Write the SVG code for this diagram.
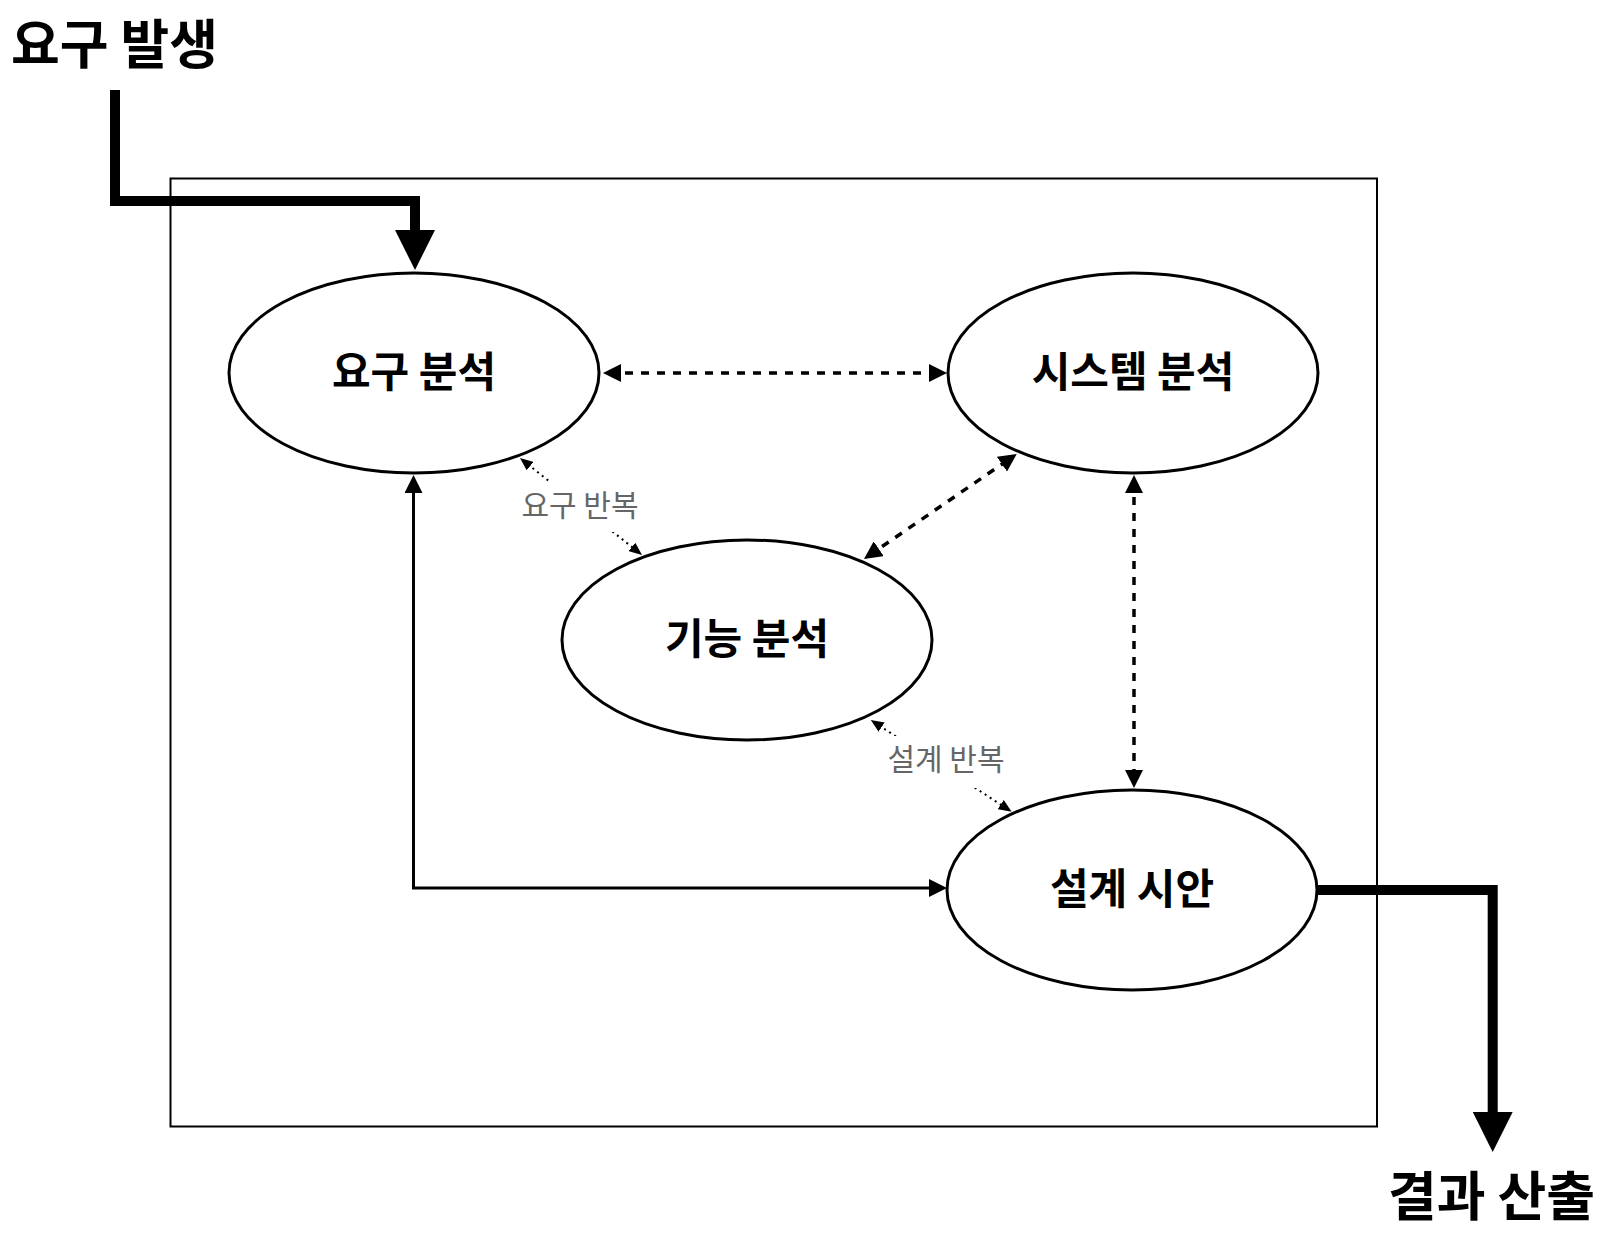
<svg xmlns="http://www.w3.org/2000/svg" width="1608" height="1244" viewBox="0 0 1608 1244">
<style>
text{font-family:"Noto Sans CJK KR","Noto Sans",sans-serif}
.title{font-size:53px;font-weight:700;fill:#000}
.lbl{font-size:42px;font-weight:700;fill:#000;text-anchor:middle}
.sm{font-size:30px;fill:#666;text-anchor:middle}
.node{fill:#fff;stroke:#000;stroke-width:3}
.thick{fill:none;stroke:#000;stroke-width:10}
.dash{fill:none;stroke:#000;stroke-width:3.5;stroke-dasharray:8 8}
.dot{fill:none;stroke:#000;stroke-width:2;stroke-dasharray:2 4}
.solid{fill:none;stroke:#000;stroke-width:3}
</style>
<defs>
<marker id="big" markerUnits="userSpaceOnUse" markerWidth="40" markerHeight="40" refX="1" refY="20" orient="auto"><path d="M0,0 L40,20 L0,40 Z" fill="#000"/></marker>
<marker id="mid" markerUnits="userSpaceOnUse" markerWidth="18" markerHeight="18" refX="12" refY="9" orient="auto-start-reverse"><path d="M0,0 L18,9 L0,18 Z" fill="#000"/></marker>
<marker id="small" markerUnits="userSpaceOnUse" markerWidth="13" markerHeight="11" refX="9" refY="5.5" orient="auto-start-reverse"><path d="M0,0 L13,5.5 L0,11 Z" fill="#000"/></marker>
</defs>
<rect x="170.5" y="178.5" width="1206.5" height="948" fill="none" stroke="#000" stroke-width="2"/>
<text class="title" x="11" y="64">요구 발생</text>
<text class="title" x="1388" y="1216">결과 산출</text>
<g id="connectors">
<path class="thick" d="M115,90 V201 H415 V231" marker-end="url(#big)"/>
<path class="thick" d="M1317,890 H1492.7 V1113" marker-end="url(#big)"/>
<path class="dash" d="M609,373 L941,373" marker-start="url(#mid)" marker-end="url(#mid)"/>
<path class="dash" d="M868.9,555.6 L1011.8,457.4" marker-start="url(#mid)" marker-end="url(#mid)"/>
<path class="dash" d="M1134,481 L1134,782" marker-start="url(#mid)" marker-end="url(#mid)"/>
<path class="solid" d="M941,888 H413.5 V481" marker-start="url(#mid)" marker-end="url(#mid)"/>
<path class="dot" d="M523.1,460.5 L638.9,552.5" marker-start="url(#small)" marker-end="url(#small)"/>
<path class="dot" d="M874.1,722.2 L1008.3,809.5" marker-start="url(#small)" marker-end="url(#small)"/>
</g>
<g id="edge-labels">
<rect x="545" y="482" width="70" height="50" fill="#fff"/>
<text class="sm" x="580" y="516">요구 반복</text>
<rect x="892" y="736" width="86" height="52" fill="#fff"/>
<text class="sm" x="946" y="770">설계 반복</text>
</g>
<g id="n1"><ellipse class="node" cx="414" cy="373" rx="185" ry="100"/><text class="lbl" x="414" y="387">요구 분석</text></g>
<g id="n2"><ellipse class="node" cx="1133" cy="373" rx="185" ry="100"/><text class="lbl" x="1133" y="387">시스템 분석</text></g>
<g id="n3"><ellipse class="node" cx="747" cy="640" rx="185" ry="100"/><text class="lbl" x="747" y="654">기능 분석</text></g>
<g id="n4"><ellipse class="node" cx="1132" cy="890" rx="185" ry="100"/><text class="lbl" x="1132" y="904">설계 시안</text></g>
</svg>
